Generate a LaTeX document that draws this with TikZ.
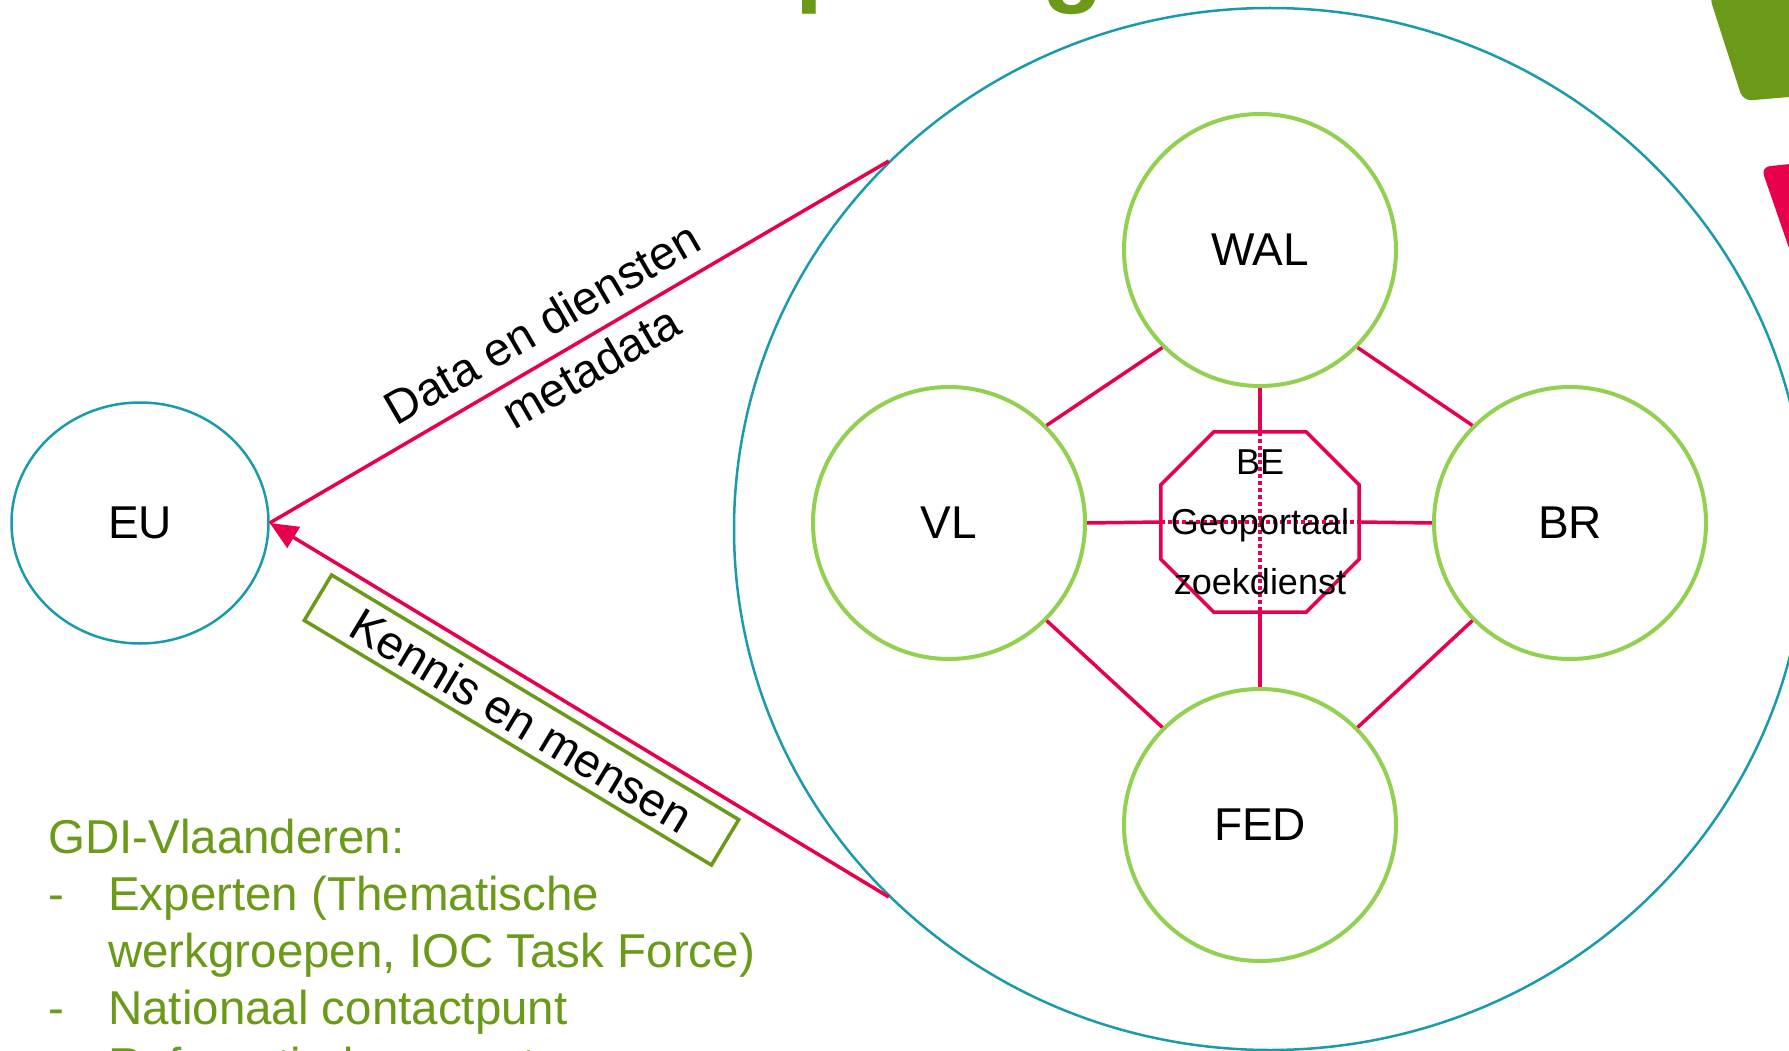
\documentclass[tikz,border=0pt]{standalone}
\usepackage{fontspec}
\setmainfont{Liberation Sans}
\usetikzlibrary{shapes.geometric, arrows.meta, backgrounds}
\definecolor{myteal}{HTML}{1A9BAB}
\definecolor{lgreen}{HTML}{92D050}
\definecolor{cred}{HTML}{E8004C}
\definecolor{olivec}{HTML}{6A9A17}
\begin{document}
\begin{tikzpicture}[x=1pt,y=-1pt,
  region/.style={circle, draw=lgreen, line width=4pt, minimum size=272pt, inner sep=0pt,
    font=\fontsize{46}{55}\selectfont},
  link/.style={draw=cred, line width=3.5pt},
  dotline/.style={draw=cred, line width=3.5pt, dash pattern=on 4pt off 3pt},
  lbl/.style={font=\fontsize{47}{56}\selectfont, inner sep=0pt},
  gditext/.style={font=\fontsize{47.5}{57}\selectfont, text=olivec, anchor=base west, inner sep=0pt},
  titlefrag/.style={font=\bfseries\fontsize{100}{100}\selectfont, text=olivec, anchor=base west, inner sep=0pt}
]
\useasboundingbox (0,0) rectangle (1789,1051);

% title fragments (cut off at top)
\node[titlefrag] (tp) at (795,-6) {p};
\node[titlefrag] (tg) at (1042,-6) {g};

% corner decorations
\fill[olivec, rounded corners=9pt] (1709,-5) -- (1743,101) -- (1800,96) -- (1800,-5) -- cycle;
\fill[cred, rounded corners=9pt] (1800,163) -- (1761,167) -- (1800,280) -- cycle;

% big circle and EU
\node[ellipse, draw=myteal, line width=2.5pt, minimum width=1072pt, minimum height=1042pt, inner sep=0pt] (big) at (1270,529) {};
\node[ellipse, draw=myteal, line width=2.5pt, minimum width=257pt, minimum height=241pt, inner sep=0pt,
  font=\fontsize{46}{55}\selectfont] (eu) at (140,523) {EU};

% regions
\node[region] (wal) at (1260,250) {WAL};
\node[region] (vl) at (949,523) {VL};
\node[region] (br) at (1570,523) {BR};
\node[region] (fed) at (1260,825) {FED};

% octagon node
\node[minimum width=198pt, minimum height=180pt, inner sep=0pt, align=center,
  font=\fontsize{36}{60}\selectfont] (oct) at (1260,522) {BE\\Geoportaal\\zoekdienst};

\begin{scope}[on background layer]
\fill[white] (0,0) rectangle (1789,1051);
\draw[link, line join=miter]
  ([xshift=53pt]oct.north west) -- ([xshift=-53pt]oct.north east) --
  ([yshift=-53pt]oct.north east) -- ([yshift=53pt]oct.south east) --
  ([xshift=-53pt]oct.south east) -- ([xshift=53pt]oct.south west) --
  ([yshift=53pt]oct.south west) -- ([yshift=-53pt]oct.north west) -- cycle;
\draw[dotline] (oct.north) -- (oct.south);
\draw[dotline] (oct.west) -- (oct.east);
\end{scope}

% connectors
\draw[link] (wal.south) -- (oct.north);
\draw[link] (oct.south) -- (fed.north);
\draw[link] (vl.east) -- (oct.west);
\draw[link] (oct.east) -- (br.west);
\draw[link] (vl.45) -- (wal.225);
\draw[link] (wal.-45) -- (br.135);
\draw[link] (vl.-45) -- (fed.135);
\draw[link] (fed.45) -- (br.225);

% arrows to EU
\draw[link] (big.136) -- (eu.east);
\draw[link, -{Triangle[length=28pt, width=24pt]}] (big.224) -- (eu.east);

% labels
\node[lbl, rotate=30.2] (data) at (542,323) {Data en diensten};
\node[lbl, rotate=30.2] (meta) at (591,367) {metadata};
\node[lbl, rotate=-31, draw=olivec, line width=3.5pt, minimum width=475pt, minimum height=53pt] (kennis) at (521.5,720) {Kennis en mensen};

% GDI text
\node[gditext] (g1) at (48,853) {GDI-Vlaanderen:};
\node[gditext] (d1) at (48,910) {-};
\node[gditext] (g2) at (108,910) {Experten (Thematische};
\node[gditext] (g3) at (108,967) {werkgroepen, IOC Task Force)};
\node[gditext] (d2) at (48,1024) {-};
\node[gditext] (g4) at (108,1024) {Nationaal contactpunt};
\node[gditext] (d3) at (48,1081) {-};
\node[gditext] (g5) at (108,1081) {Referentiedocumenten};
\end{tikzpicture}
\end{document}
